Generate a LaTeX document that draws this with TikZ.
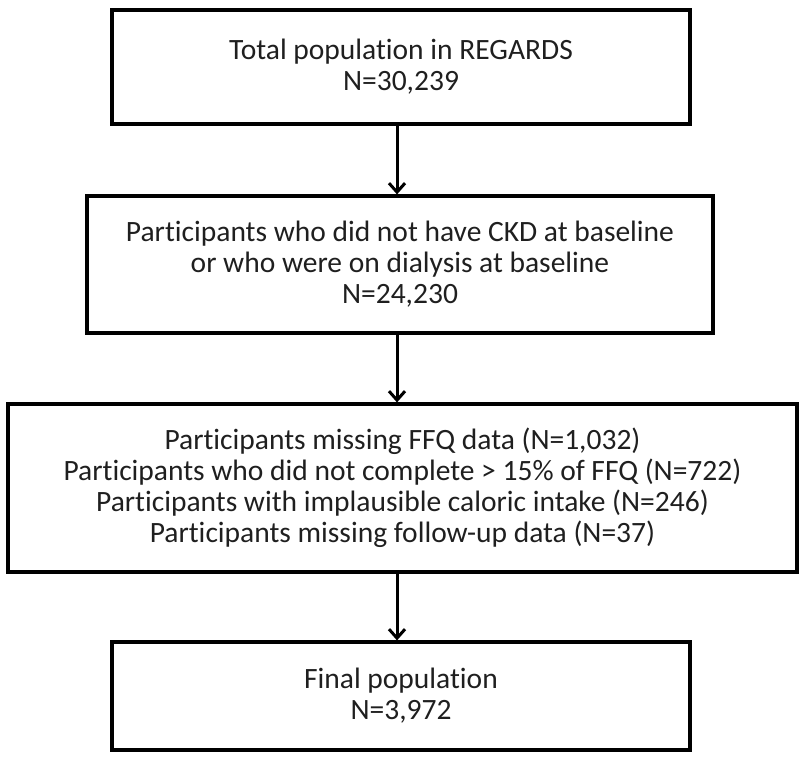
\documentclass[tikz,border=0pt]{standalone}
\usepackage{fontspec}
\setmainfont[Ligatures=NoCommon]{Carlito}
\usetikzlibrary{arrows.meta}
\begin{document}
\begin{tikzpicture}[x=1pt,y=-1pt,
  box/.style={draw=black,line width=3.2pt,inner sep=0pt,align=center,
    font=\fontsize{29.5}{31}\selectfont,text=black!88},
  arr/.style={line width=3pt,-{Straight Barb[length=9pt,width=16pt,line width=3pt]}}]
\useasboundingbox (0,0) rectangle (800,760);
\node[box,minimum width=578pt,minimum height=114pt] (b1) at (401,67) {Total population in REGARDS\\N=30,239};
\node[box,minimum width=626pt,minimum height=137pt] (b2) at (400,264.5) {Participants who did not have CKD at baseline\\or who were on dialysis at baseline\\N=24,230};
\node[box,minimum width=789pt,minimum height=168pt] (b3) at (402.5,488) {Participants missing FFQ data (N=1,032)\\Participants who did not complete > 15\% of FFQ (N=722)\\Participants with implausible caloric intake (N=246)\\Participants missing follow-up data (N=37)};
\node[box,minimum width=578pt,minimum height=108pt] (b4) at (401,696) {Final population\\N=3,972};
\draw[arr] (b1.south -| 397,0) -- (b2.north -| 397,0);
\draw[arr] (b2.south -| 397,0) -- (b3.north -| 397,0);
\draw[arr] (b3.south -| 397,0) -- (b4.north -| 397,0);
\end{tikzpicture}
\end{document}
